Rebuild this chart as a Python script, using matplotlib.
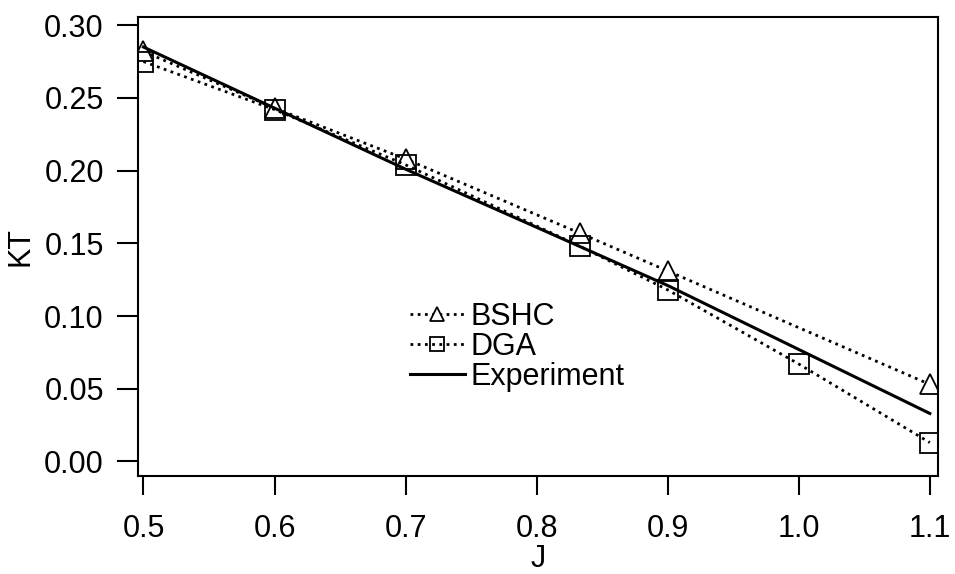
# KT versus J: BSHC and DGA estimates against the experimental curve
import matplotlib.pyplot as plt

plt.rcParams['font.family'] = ['Liberation Sans', 'DejaVu Sans']

j_bshc = [0.5, 0.6, 0.7, 0.833, 0.9, 1.1]
kt_bshc = [0.282, 0.243, 0.208, 0.157, 0.131, 0.053]

j_dga = [0.5, 0.6, 0.7, 0.833, 0.9, 1.0, 1.1]
kt_dga = [0.275, 0.242, 0.204, 0.148, 0.118, 0.067, 0.013]

j_exp = [0.5, 0.6, 0.7, 0.8, 0.9, 1.0, 1.1]
kt_exp = [0.285, 0.243, 0.201, 0.161, 0.121, 0.077, 0.033]

fig = plt.figure(figsize=(9.55, 5.74), dpi=100)
ax = fig.add_axes([0.145, 0.17, 0.837, 0.80])

dots = (0, (1, 1.6))
ax.plot(j_bshc, kt_bshc, linestyle=dots, color='black', lw=2.0,
        marker='^', ms=15, mfc='white', mec='black', mew=1.3, label='BSHC')
ax.plot(j_dga, kt_dga, linestyle=dots, color='black', lw=2.0,
        marker='s', ms=15, mfc='none', mec='black', mew=1.3, label='DGA')
ax.plot(j_exp, kt_exp, color='black', lw=2.2, label='Experiment')

ax.set_xlim(0.4962, 1.1061)
ax.set_ylim(-0.0103, 0.3055)
ax.set_xticks([0.5, 0.6, 0.7, 0.8, 0.9, 1.0, 1.1])
ax.set_yticks([0.0, 0.05, 0.10, 0.15, 0.20, 0.25, 0.30])
ax.set_xticklabels(['0.5', '0.6', '0.7', '0.8', '0.9', '1.0', '1.1'])
ax.set_yticklabels(['0.00', '0.05', '0.10', '0.15', '0.20', '0.25', '0.30'])
ax.tick_params(direction='out', width=1.5, labelsize=22)
ax.tick_params(axis='y', length=15, pad=10)
ax.tick_params(axis='x', length=14, pad=13)

for s in ax.spines.values():
    s.set_linewidth(1.5)

ax.set_xlabel('J', fontsize=22, labelpad=0)
ax.set_ylabel('KT', fontsize=22, labelpad=6)

ax.legend(loc='upper left', bbox_to_anchor=(0.32, 0.414), frameon=False,
          fontsize=22, markerscale=0.7, handlelength=1.8, handletextpad=0.2,
          labelspacing=0.0, borderpad=0)

fig.savefig('out.png', dpi=100)
